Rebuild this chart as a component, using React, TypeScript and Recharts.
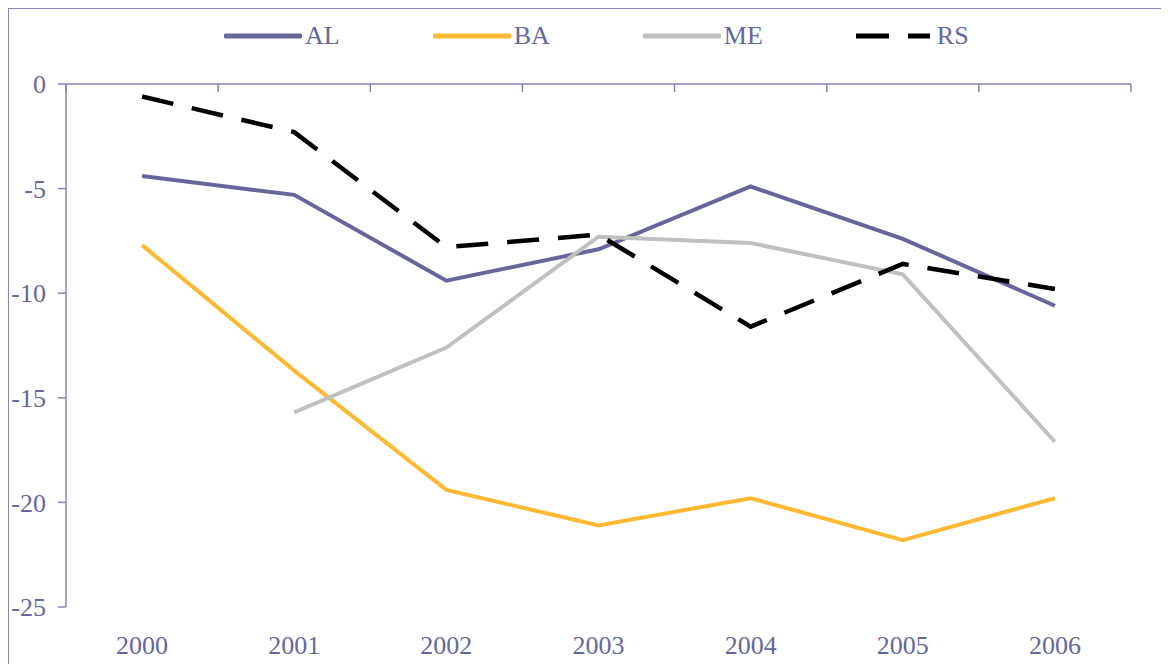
import { LineChart, Line, XAxis, YAxis } from 'recharts';

const years = ['2000', '2001', '2002', '2003', '2004', '2005', '2006'];
const alValues = [-4.4, -5.3, -9.4, -7.9, -4.9, -7.4, -10.6];
const baValues = [-7.7, -13.7, -19.4, -21.1, -19.8, -21.8, -19.8];
const meValues = [null, -15.7, -12.6, -7.3, -7.6, -9.1, -17.1];
const rsValues = [-0.6, -2.3, -7.8, -7.2, -11.6, -8.6, -9.8];
const yTicks = [-25, -20, -15, -10, -5, 0];
const boundaryTicks = [0, 1, 2, 3, 4, 5, 6, 7];

const data = years.map((year, i) => ({
  year,
  pos: i + 0.5,
  AL: alValues[i],
  BA: baValues[i],
  ME: meValues[i],
  RS: rsValues[i],
}));

const TEXT = '#66669e';
const AXIS = '#8585b5';
const FONT = '"Liberation Serif", "Times New Roman", serif';

const series = [
  { key: 'AL', color: '#66669a', dash: undefined as string | undefined, width: 4 },
  { key: 'BA', color: '#fdb933', dash: undefined, width: 4 },
  { key: 'ME', color: '#c0c0c0', dash: undefined, width: 4 },
  { key: 'RS', color: '#000000', dash: '32 19', width: 4.5 },
];

function LegendRow() {
  return (
    <div
      style={{
        position: 'absolute',
        left: 215,
        top: 12,
        display: 'flex',
        alignItems: 'center',
        gap: 93,
        fontFamily: FONT,
        fontSize: 26,
        color: TEXT,
      }}
    >
      {series.map((s) => (
        <div key={s.key} style={{ display: 'flex', alignItems: 'center' }}>
          <svg width={78} height={10} style={{ display: 'block' }}>
            <line
              x1={s.dash ? 0 : 2}
              y1={5}
              x2={s.dash ? 74 : 76}
              y2={5}
              stroke={s.color}
              strokeWidth={5}
              strokeLinecap={s.dash ? 'butt' : 'round'}
              strokeDasharray={s.dash ? '33 19' : undefined}
            />
          </svg>
          <span style={{ marginLeft: 3, lineHeight: '30px' }}>{s.key}</span>
        </div>
      ))}
    </div>
  );
}

export default function App() {
  return (
    <div
      style={{
        position: 'relative',
        width: 1161,
        height: 656,
        borderLeft: `1px solid ${AXIS}`,
        borderTop: `1px solid ${AXIS}`,
        background: '#fff',
      }}
    >
      <LegendRow />
      <LineChart
        width={1160}
        height={655}
        data={data}
        margin={{ top: 74, right: 38, bottom: 0, left: 0 }}
      >
        <XAxis
          xAxisId="top"
          dataKey="pos"
          type="number"
          orientation="top"
          domain={[0, 7]}
          allowDataOverflow
          ticks={boundaryTicks}
          height={1}
          tickSize={-8}
          tick={() => <g />}
          axisLine={{ stroke: AXIS, strokeWidth: 1.5 }}
          tickLine={{ stroke: AXIS, strokeWidth: 1.5 }}
        />
        <XAxis
          xAxisId="bottom"
          dataKey="year"
          scale="band"
          orientation="bottom"
          height={57}
          interval={0}
          axisLine={false}
          tickLine={false}
          tickSize={6}
          tickMargin={23}
          tick={{ fill: TEXT, fontSize: 26, fontFamily: FONT }}
        />
        <YAxis
          domain={[-25, 0]}
          ticks={yTicks}
          width={57}
          tickSize={8}
          tickMargin={12}
          axisLine={{ stroke: AXIS, strokeWidth: 1.5 }}
          tickLine={{ stroke: AXIS, strokeWidth: 1.5 }}
          tick={{ fill: TEXT, fontSize: 26, fontFamily: FONT }}
        />
        {series.map((s) => (
          <Line
            key={s.key}
            xAxisId="bottom"
            type="linear"
            dataKey={s.key}
            stroke={s.color}
            strokeWidth={s.width}
            strokeDasharray={s.dash}
            dot={false}
            activeDot={false}
            isAnimationActive={false}
          />
        ))}
      </LineChart>
    </div>
  );
}
